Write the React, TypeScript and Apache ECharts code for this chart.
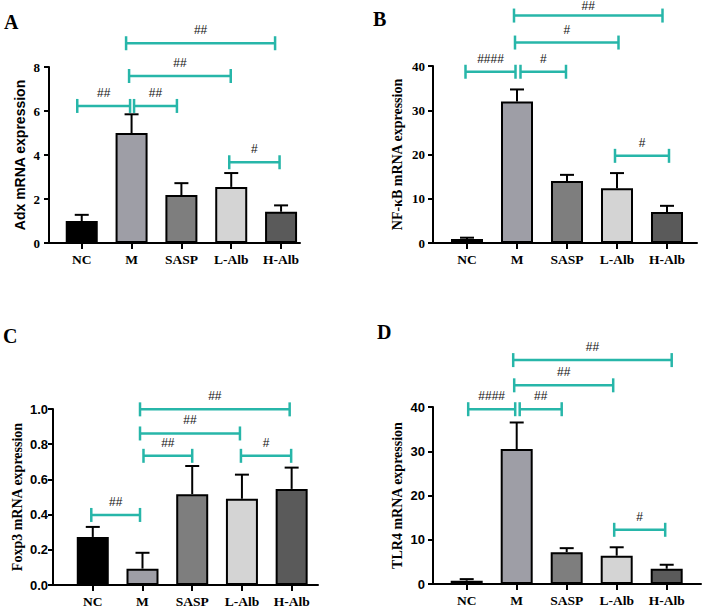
import React, { useEffect, useRef } from 'react';
import * as echarts from 'echarts';

// ---------- data ----------
const categories = ['NC', 'M', 'SASP', 'L-Alb', 'H-Alb'];
const barColors = ['#000000', '#9e9ea6', '#7e7e7e', '#d4d4d4', '#5a5a5a'];

// Panel A: Adx
const adxMean = [1.0, 5.0, 2.18, 2.55, 1.42];
const adxErr = [0.28, 0.85, 0.54, 0.63, 0.29];
const adxSig: [number, number, number, string][] = [
  [-0.09, 0.97, 6.23, '##'],
  [1.05, 1.91, 6.23, '##'],
  [0.95, 2.99, 7.59, '##'],
  [0.89, 3.88, 9.08, '##'],
  [2.96, 3.97, 3.67, '#'],
];

// Panel B: NF-κB
const nfkbMean = [0.9, 32.0, 14.0, 12.4, 7.0];
const nfkbErr = [0.3, 2.7, 1.4, 3.4, 1.4];
const nfkbSig: [number, number, number, string][] = [
  [-0.03, 0.97, 38.7, '####'],
  [1.07, 1.98, 38.7, '#'],
  [0.96, 3.03, 45.3, '#'],
  [0.94, 3.91, 51.4, '##'],
  [2.96, 4.04, 19.7, '#'],
];

// Panel C: Foxp3
const foxp3Mean = [0.273, 0.093, 0.516, 0.49, 0.546];
const foxp3Err = [0.057, 0.09, 0.16, 0.137, 0.121];
const foxp3Sig: [number, number, number, string][] = [
  [-0.03, 0.95, 0.398, '##'],
  [1.02, 2.0, 0.734, '##'],
  [0.95, 2.96, 0.861, '##'],
  [0.95, 3.96, 0.998, '##'],
  [2.98, 3.99, 0.734, '#'],
];

// Panel D: TLR4
const tlr4Mean = [0.75, 30.5, 7.2, 6.4, 3.45];
const tlr4Err = [0.35, 6.0, 0.9, 1.9, 0.9];
const tlr4Sig: [number, number, number, string][] = [
  [0.03, 0.97, 39.5, '####'],
  [1.06, 1.9, 39.5, '##'],
  [0.95, 2.93, 44.9, '##'],
  [0.93, 4.1, 50.6, '##'],
  [2.95, 3.97, 12.25, '#'],
];

const yTicksA = [0, 8, 2];
const yTicksB = [0, 40, 10];
const yTicksC = [0, 1.0, 0.2];
const yTicksD = [0, 40, 10];

// ---------- style ----------
const TEAL = '#27b6a9';
const SERIF = '"Liberation Serif", "Times New Roman", serif';
const SANS = '"Liberation Sans", Arial, sans-serif';

interface Panel {
  mean: number[];
  err: number[];
  sig: [number, number, number, string][];
  yTicks: number[];
  yName: string;
  nameFont: string;
  nameGap: number;
  tickFont: string;
  tickSize: number;
  tickMargin: number;
  decimals: number;
  grid: { left: number; top: number; width: number; height: number };
  xMin: number;
  xMax: number;
  letter: string;
  letterX: number;
  letterY: number;
}

const panels: Panel[] = [
  {
    mean: adxMean, err: adxErr, sig: adxSig, yTicks: yTicksA,
    yName: 'Adx mRNA expression', nameFont: SANS, nameGap: 22,
    tickFont: SERIF, tickSize: 13, tickMargin: 9, decimals: 0,
    grid: { left: 49, top: 67, width: 251, height: 176 },
    xMin: -0.657, xMax: 4.38, letter: 'A', letterX: 4, letterY: 22,
  },
  {
    mean: nfkbMean, err: nfkbErr, sig: nfkbSig, yTicks: yTicksB,
    yName: 'NF-κB mRNA expression', nameFont: SERIF, nameGap: 29,
    tickFont: SERIF, tickSize: 13, tickMargin: 8, decimals: 0,
    grid: { left: 433, top: 66, width: 264, height: 177 },
    xMin: -0.68, xMax: 4.6, letter: 'B', letterX: 373, letterY: 19,
  },
  {
    mean: foxp3Mean, err: foxp3Err, sig: foxp3Sig, yTicks: yTicksC,
    yName: 'Foxp3 mRNA expression', nameFont: SERIF, nameGap: 29,
    tickFont: SANS, tickSize: 13, tickMargin: 5, decimals: 1,
    grid: { left: 53, top: 409, width: 265, height: 177 },
    xMin: -0.8, xMax: 4.53, letter: 'C', letterX: 3, letterY: 336,
  },
  {
    mean: tlr4Mean, err: tlr4Err, sig: tlr4Sig, yTicks: yTicksD,
    yName: 'TLR4 mRNA expression', nameFont: SERIF, nameGap: 29,
    tickFont: SANS, tickSize: 13, tickMargin: 8, decimals: 0,
    grid: { left: 433, top: 407, width: 268, height: 177 },
    xMin: -0.674, xMax: 4.686, letter: 'D', letterX: 377, letterY: 332,
  },
];

function buildOption() {
  const grid: any[] = [];
  const xAxis: any[] = [];
  const yAxis: any[] = [];
  const series: any[] = [];
  const graphic: any[] = [];
  const catIdx = categories.map((_, i) => i);

  panels.forEach((p, i) => {
    grid.push({ ...p.grid, containLabel: false });
    xAxis.push({
      type: 'value',
      gridIndex: i,
      min: p.xMin,
      max: p.xMax,
      splitLine: { show: false },
      axisLine: { show: true, onZero: false, lineStyle: { color: '#000', width: 2 } },
      axisTick: { show: true, customValues: catIdx, length: 6, lineStyle: { color: '#000', width: 2 } },
      axisLabel: {
        show: true,
        customValues: catIdx,
        formatter: (v: number) => categories[Math.round(v)] ?? '',
        fontFamily: SERIF,
        fontWeight: 'bold',
        fontSize: 13.5,
        color: '#000',
        margin: 9,
      },
    });
    yAxis.push({
      type: 'value',
      gridIndex: i,
      min: p.yTicks[0],
      max: p.yTicks[1],
      interval: p.yTicks[2],
      splitLine: { show: false },
      axisLine: { show: true, onZero: false, lineStyle: { color: '#000', width: 2 } },
      axisTick: { show: true, length: 5, lineStyle: { color: '#000', width: 2 } },
      axisLabel: {
        color: '#000',
        fontFamily: p.tickFont,
        fontWeight: 'bold',
        fontSize: p.tickSize,
        margin: p.tickMargin,
        formatter: (v: number) => v.toFixed(p.decimals),
      },
      name: p.yName,
      nameLocation: 'middle',
      nameGap: p.nameGap,
      nameRotate: 90,
      nameMoveOverlap: false,
      nameTextStyle: { fontFamily: p.nameFont, fontWeight: 'bold', fontSize: 14, color: '#000' },
    });

    series.push({
      type: 'bar',
      xAxisIndex: i,
      yAxisIndex: i,
      barWidth: 32,
      z: 3,
      data: p.mean.map((v, k) => ({
        value: [k, v],
        itemStyle: { color: barColors[k], borderColor: '#000', borderWidth: 2 },
      })),
    });

    series.push({
      type: 'custom',
      xAxisIndex: i,
      yAxisIndex: i,
      z: 2,
      clip: false,
      encode: { x: 0, y: [1, 2] },
      data: p.mean.map((v, k) => [k, v, v + p.err[k]]),
      renderItem: (params: any, api: any) => {
        const b = api.coord([api.value(0), api.value(1)]);
        const t = api.coord([api.value(0), api.value(2)]);
        return {
          type: 'group',
          children: [
            { type: 'line', shape: { x1: b[0], y1: b[1], x2: t[0], y2: t[1] }, style: { stroke: '#000', lineWidth: 2 } },
            { type: 'line', shape: { x1: t[0] - 7, y1: t[1], x2: t[0] + 7, y2: t[1] }, style: { stroke: '#000', lineWidth: 2 } },
          ],
        };
      },
    });

    series.push({
      type: 'custom',
      xAxisIndex: i,
      yAxisIndex: i,
      z: 4,
      clip: false,
      encode: { x: [0, 1], y: 2 },
      data: p.sig.map((s) => [s[0], s[1], s[2]]),
      renderItem: (params: any, api: any) => {
        const a = api.coord([api.value(0), api.value(2)]);
        const b = api.coord([api.value(1), api.value(2)]);
        const label = p.sig[params.dataIndex][3];
        const st = { stroke: TEAL, lineWidth: 2.5 };
        // keep the label inside the canvas when the bracket sits at the very top
        const ly = Math.max(a[1] - 13, 6);
        return {
          type: 'group',
          children: [
            { type: 'line', shape: { x1: a[0], y1: a[1], x2: b[0], y2: b[1] }, style: st },
            { type: 'line', shape: { x1: a[0], y1: a[1] - 7, x2: a[0], y2: a[1] + 7 }, style: st },
            { type: 'line', shape: { x1: b[0], y1: b[1] - 7, x2: b[0], y2: b[1] + 7 }, style: st },
            {
              type: 'text',
              style: {
                text: label,
                x: (a[0] + b[0]) / 2,
                y: ly,
                align: 'center',
                verticalAlign: 'middle',
                fill: '#111',
                font: `12px ${SANS}`,
              },
            },
          ],
        };
      },
    });

    graphic.push({
      type: 'text',
      x: p.letterX,
      y: p.letterY,
      style: {
        text: p.letter,
        font: `bold 20px ${SERIF}`,
        fill: '#000',
        align: 'left',
        verticalAlign: 'middle',
      },
    });
  });

  return { animation: false, backgroundColor: '#fff', grid, xAxis, yAxis, series, graphic };
}

export default function App() {
  const ref = useRef<HTMLDivElement>(null);
  useEffect(() => {
    if (!ref.current) return;
    const chart = echarts.init(ref.current, undefined, { renderer: 'svg' });
    chart.setOption(buildOption() as any);
    return () => chart.dispose();
  }, []);
  return (
    <div
      ref={ref}
      style={{ position: 'fixed', left: 0, top: 0, width: 702, height: 608, background: '#fff' }}
    />
  );
}
